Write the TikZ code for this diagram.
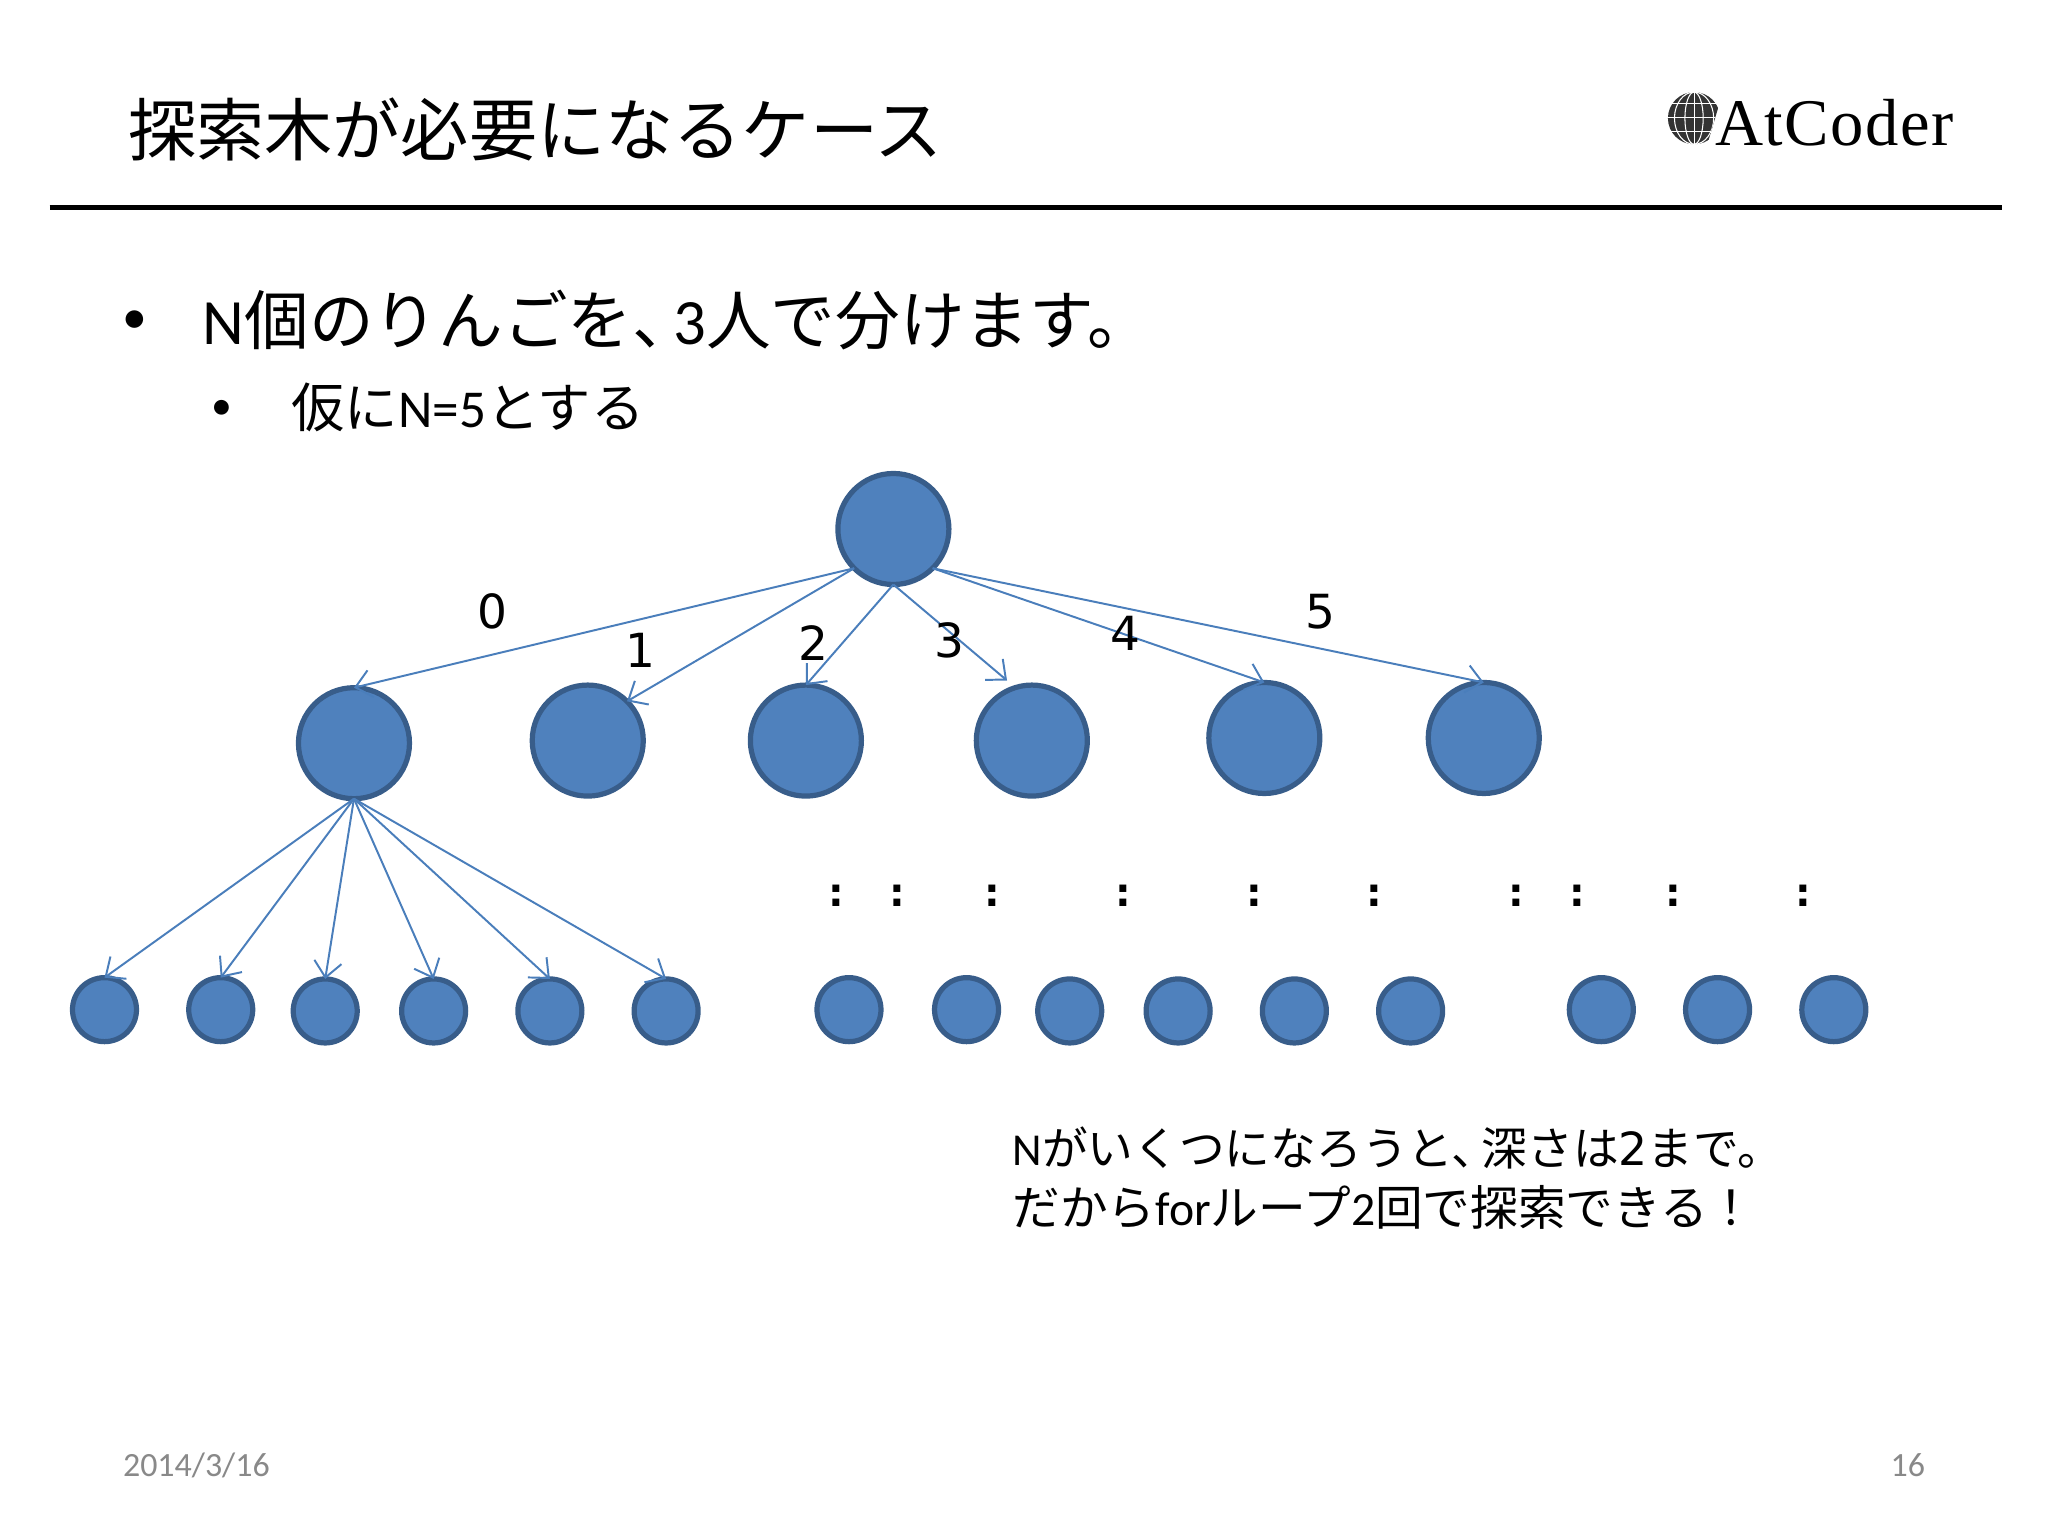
\documentclass[tikz,border=0pt]{standalone}
\usepackage{fontspec}
\usetikzlibrary{arrows.meta}
\setmainfont{Carlito}
\newfontfamily\jp{Noto Sans CJK JP}
\newfontfamily\logofont[LetterSpace=2.2]{Liberation Serif}
\newfontfamily\numfont{DejaVu Sans}
\definecolor{nodefill}{HTML}{4F81BD}
\definecolor{nodeline}{HTML}{385D8A}
\definecolor{edgeline}{HTML}{4A7EBB}
\definecolor{footgray}{HTML}{898989}
\newcommand{\fs}[1]{\fontsize{#1}{#1}\selectfont}

\begin{document}
\begin{tikzpicture}[x=1pt, y=-1pt,
	>={Straight Barb[length=12pt, width=21pt]},
	bigdot/.style={circle, draw=nodeline, fill=nodefill, line width=4pt, minimum size=85pt, inner sep=0pt, outer sep=0pt},
	smalldot/.style={circle, draw=nodeline, fill=nodefill, line width=4pt, minimum size=49pt, inner sep=0pt, outer sep=0pt},
	edgearrow/.style={edgeline, line width=1.5pt, ->},
	edgenum/.style={font=\numfont\fs{36}, inner sep=0pt},
	moredots/.style={font=\numfont\bfseries\fs{30}, inner sep=0pt},
	foot/.style={font=\fs{26}, text=footgray, inner sep=0pt}]
	\useasboundingbox (0,0) rectangle (1568,1176);

	% heading
	\node[anchor=west, inner sep=0pt, font=\jp\fs{52.2}] (title) at (98,99) {探索木が必要になるケース};
	\coordinate (ruleleft) at (38,159);
	\coordinate (ruleright) at (1533,159);
	\draw[line width=4.3pt] (ruleleft) -- (ruleright);

	% logo
	\begin{scope}
		\clip (1276,70) -- (1318,70) -- (1318,74) -- (1307,111) -- (1276,111) -- cycle;
		\fill[black!80] (1297,90.5) circle [radius=20];
		\draw[white, line width=0.8pt] (1297,90.5) ellipse [x radius=7, y radius=20];
		\draw[white, line width=0.8pt] (1297,90.5) ellipse [x radius=15, y radius=20];
		\draw[white, line width=0.8pt] (1297,70) -- (1297,111);
		\draw[white, line width=0.8pt] (1276,79) -- (1318,79);
		\draw[white, line width=0.8pt] (1276,90) -- (1318,90);
		\draw[white, line width=0.8pt] (1276,101) -- (1318,101);
	\end{scope}
	\node[anchor=west, inner sep=0pt, font=\logofont\fs{51}] (logo) at (1313,94) {AtCoder};

	% text
	\node[inner sep=0pt, font=\fs{38}] (bulleta) at (103,247) {•};
	\node[anchor=west, inner sep=0pt, font=\fs{49.5}] (linea) at (155,245) {N{\jp 個のりんごを、}\hspace{-18pt}3{\jp 人で分けます。}};
	\node[inner sep=0pt, font=\fs{32}] (bulletb) at (170,314) {•};
	\node[anchor=west, inner sep=0pt, font=\fs{40.8}] (lineb) at (223,312) {{\jp 仮に}N=5{\jp とする}};

	% tree
	\node[bigdot] (root) at (684,405) {};
	\node[bigdot] (ca) at (271,569) {};
	\node[bigdot] (cb) at (450,567) {};
	\node[bigdot] (cc) at (617,567) {};
	\node[bigdot] (cd) at (790,567) {};
	\node[bigdot] (ce) at (968,565) {};
	\node[bigdot] (cf) at (1136,565) {};
	\coordinate (cdend) at (771,521);

	\node[smalldot] (la) at (80,773) {};
	\node[smalldot] (lb) at (169,773) {};
	\node[smalldot] (lc) at (249,774) {};
	\node[smalldot] (ld) at (332,774) {};
	\node[smalldot] (le) at (421,774) {};
	\node[smalldot] (lf) at (510,774) {};
	\node[smalldot] (ma) at (650,773) {};
	\node[smalldot] (mb) at (740,773) {};
	\node[smalldot] (mc) at (819,774) {};
	\node[smalldot] (md) at (902,774) {};
	\node[smalldot] (me) at (991,774) {};
	\node[smalldot] (mf) at (1080,774) {};
	\node[smalldot] (na) at (1226,773) {};
	\node[smalldot] (nb) at (1315,773) {};
	\node[smalldot] (nc) at (1404,773) {};

	\draw[edgearrow] (root.south west) -- (ca.north);
	\draw[edgearrow] (root.south west) -- (cb.north east);
	\draw[edgearrow] (root.south) -- (cc.north);
	\draw[edgearrow] (root.south) -- (cdend);
	\draw[edgearrow] (root.south east) -- (ce.north);
	\draw[edgearrow] (root.south east) -- (cf.north);

	\draw[edgearrow] (ca.south) -- (la.north);
	\draw[edgearrow] (ca.south) -- (lb.north);
	\draw[edgearrow] (ca.south) -- (lc.north);
	\draw[edgearrow] (ca.south) -- (ld.north);
	\draw[edgearrow] (ca.south) -- (le.north);
	\draw[edgearrow] (ca.south) -- (lf.north);

	\node[edgenum] (numa) at (377,468) {0};
	\node[edgenum] (numb) at (490,498) {1};
	\node[edgenum] (numc) at (623,492) {2};
	\node[edgenum] (numd) at (727,490) {3};
	\node[edgenum] (nume) at (862,485) {4};
	\node[edgenum] (numf) at (1011,468) {5};

	\node[moredots] (dota) at (640,686) {:};
	\node[moredots] (dotb) at (687,686) {:};
	\node[moredots] (dotc) at (760,686) {:};
	\node[moredots] (dotd) at (860,686) {:};
	\node[moredots] (dote) at (960,686) {:};
	\node[moredots] (dotf) at (1052,686) {:};
	\node[moredots] (dotg) at (1161,686) {:};
	\node[moredots] (doth) at (1208,686) {:};
	\node[moredots] (doti) at (1281,686) {:};
	\node[moredots] (dotj) at (1381,686) {:};

	% note
	\node[anchor=west, inner sep=0pt, align=left] (note) at (775,902) {\fs{35}N{\jp がいくつになろうと、}\hspace{-12pt}{\jp 深さは}{\numfont 2}{\jp まで。}\\[12pt]\fs{36.5}{\jp だから}for{\jp ループ}2{\jp 回で探索できる！}};

	% footer
	\node[foot, anchor=west] (date) at (94,1122) {2014/3/16};
	\node[foot, anchor=east] (page) at (1474,1122) {16};
\end{tikzpicture}
\end{document}
